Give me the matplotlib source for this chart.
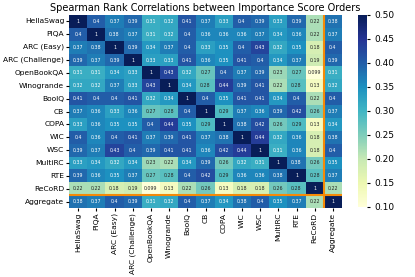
import numpy as np
import matplotlib
matplotlib.use("Agg")
import matplotlib.pyplot as plt
import seaborn as sns

tasks = ["HellaSwag", "PIQA", "ARC (Easy)", "ARC (Challenge)", "OpenBookQA",
         "Winogrande", "BoolQ", "CB", "COPA", "WIC", "WSC", "MultiRC", "RTE",
         "ReCoRD", "Aggregate"]

corr = np.array([
    [1, 0.4, 0.37, 0.39, 0.31, 0.32, 0.41, 0.37, 0.33, 0.4, 0.39, 0.33, 0.39, 0.22, 0.38],
    [0.4, 1, 0.38, 0.37, 0.31, 0.32, 0.4, 0.36, 0.36, 0.36, 0.37, 0.34, 0.36, 0.22, 0.37],
    [0.37, 0.38, 1, 0.39, 0.34, 0.37, 0.4, 0.33, 0.35, 0.4, 0.43, 0.32, 0.35, 0.18, 0.4],
    [0.39, 0.37, 0.39, 1, 0.33, 0.33, 0.41, 0.36, 0.35, 0.41, 0.4, 0.34, 0.37, 0.19, 0.39],
    [0.31, 0.31, 0.34, 0.33, 1, 0.43, 0.32, 0.27, 0.4, 0.37, 0.39, 0.23, 0.27, 0.099, 0.31],
    [0.32, 0.32, 0.37, 0.33, 0.43, 1, 0.34, 0.28, 0.44, 0.39, 0.41, 0.22, 0.28, 0.13, 0.32],
    [0.41, 0.4, 0.4, 0.41, 0.32, 0.34, 1, 0.4, 0.35, 0.41, 0.41, 0.34, 0.4, 0.22, 0.4],
    [0.37, 0.36, 0.33, 0.36, 0.27, 0.28, 0.4, 1, 0.29, 0.37, 0.36, 0.39, 0.42, 0.26, 0.37],
    [0.33, 0.36, 0.35, 0.35, 0.4, 0.44, 0.35, 0.29, 1, 0.38, 0.42, 0.26, 0.29, 0.13, 0.34],
    [0.4, 0.36, 0.4, 0.41, 0.37, 0.39, 0.41, 0.37, 0.38, 1, 0.44, 0.32, 0.36, 0.18, 0.38],
    [0.39, 0.37, 0.43, 0.4, 0.39, 0.41, 0.41, 0.36, 0.42, 0.44, 1, 0.31, 0.36, 0.18, 0.4],
    [0.33, 0.34, 0.32, 0.34, 0.23, 0.22, 0.34, 0.39, 0.26, 0.32, 0.31, 1, 0.38, 0.26, 0.35],
    [0.39, 0.36, 0.35, 0.37, 0.27, 0.28, 0.4, 0.42, 0.29, 0.36, 0.36, 0.38, 1, 0.28, 0.37],
    [0.22, 0.22, 0.18, 0.19, 0.099, 0.13, 0.22, 0.26, 0.13, 0.18, 0.18, 0.26, 0.28, 1, 0.22],
    [0.38, 0.37, 0.4, 0.39, 0.31, 0.32, 0.4, 0.37, 0.34, 0.38, 0.4, 0.35, 0.37, 0.22, 1],
])

fig = plt.figure(figsize=(4.15, 2.77), dpi=100)
ax = fig.add_axes([69 / 415, 1 - 208 / 277, 273 / 415, 193 / 277])
cax = fig.add_axes([358 / 415, 1 - 207 / 277, 9 / 415, 192 / 277])

sns.heatmap(corr, ax=ax, cbar_ax=cax, cmap="YlGnBu", vmin=0.1, vmax=0.5,
            annot=True, annot_kws={"fontsize": 3.4},
            xticklabels=tasks, yticklabels=tasks)

# separate the aggregate row/column
n = len(tasks)
ax.axhline(n - 1, color="#f58a07", linewidth=1.5)
ax.axvline(n - 1, color="#f58a07", linewidth=1.5)

ax.tick_params(axis="both", labelsize=5.4, length=2, pad=1.5)
ax.set_xticklabels(tasks, rotation=90)
ax.set_yticklabels(tasks, rotation=0)
cax.tick_params(labelsize=6.5, length=2)
cax.set_yticks([0.1, 0.15, 0.2, 0.25, 0.3, 0.35, 0.4, 0.45, 0.5])
cax.set_yticklabels(["0.10", "0.15", "0.20", "0.25", "0.30", "0.35", "0.40", "0.45", "0.50"])

ax.set_title("Spearman Rank Correlations between Importance Score Orders", fontsize=7.0, pad=3)

plt.savefig("out.png", dpi=100)
